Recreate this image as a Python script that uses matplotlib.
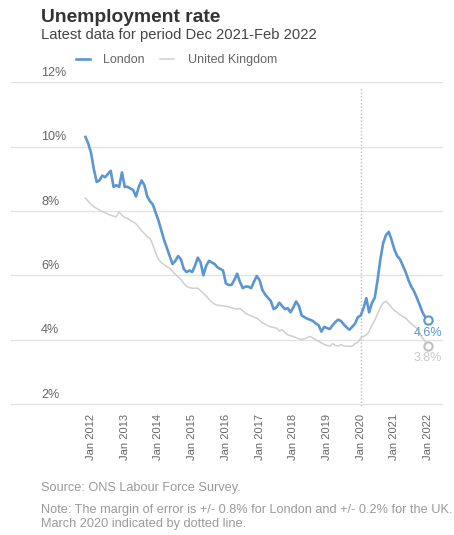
import matplotlib
matplotlib.use("Agg")
import matplotlib.pyplot as plt
from matplotlib.transforms import blended_transform_factory, offset_copy

plt.rcParams['font.family'] = ['Liberation Sans', 'DejaVu Sans']

# Months are counted from Jan 2012 (0 = Jan 2012); each value is the
# rolling three-month rate, plotted at the centre month of the period.
first_month = -2
london = [
    10.3, 10.1, 9.8, 9.3, 8.9, 8.95, 9.1, 9.05, 9.15, 9.25,        # -2 .. 7
    8.75, 8.8, 8.75, 9.2, 8.75, 8.75, 8.7, 8.65, 8.45, 8.75,       # 8 .. 17
    8.95, 8.8, 8.45, 8.3, 8.2, 7.95, 7.7, 7.4, 7.1, 6.85,          # 18 .. 27
    6.6, 6.35, 6.45, 6.6, 6.5, 6.2, 6.1, 6.15, 6.1, 6.3,           # 28 .. 37
    6.55, 6.4, 6.0, 6.3, 6.45, 6.4, 6.35, 6.25, 6.2, 6.15,         # 38 .. 47
    5.75, 5.7, 5.7, 5.85, 6.05, 5.8, 5.6, 5.65, 5.65, 5.6,         # 48 .. 57
    5.8, 5.98, 5.85, 5.55, 5.4, 5.3, 5.2, 4.95, 5.0, 5.15,         # 58 .. 67
    5.05, 4.95, 4.98, 4.85, 5.0, 5.19, 5.05, 4.75, 4.7, 4.65,      # 68 .. 77
    4.62, 4.58, 4.5, 4.45, 4.25, 4.4, 4.36, 4.33, 4.45, 4.55,      # 78 .. 87
    4.62, 4.58, 4.47, 4.38, 4.31, 4.4, 4.5, 4.7, 4.75, 4.98,       # 88 .. 97
    5.29, 4.85, 5.14, 5.3, 5.85, 6.5, 7.0, 7.25, 7.35, 7.1,        # 98 .. 107
    6.8, 6.6, 6.5, 6.3, 6.1, 5.85, 5.65, 5.5, 5.3, 5.08,           # 108 .. 117
    4.85, 4.7, 4.6,                                                # 118 .. 120
]
uk = [
    8.4, 8.3, 8.2, 8.13, 8.08, 8.03, 7.98, 7.95, 7.9, 7.87,        # -2 .. 7
    7.84, 7.82, 7.97, 7.87, 7.8, 7.77, 7.7, 7.66, 7.6, 7.5,        # 8 .. 17
    7.38, 7.3, 7.2, 7.15, 6.95, 6.7, 6.5, 6.4, 6.33, 6.27,         # 18 .. 27
    6.22, 6.12, 6.03, 5.95, 5.87, 5.75, 5.66, 5.62, 5.6, 5.6,      # 28 .. 37
    5.6, 5.52, 5.44, 5.35, 5.26, 5.17, 5.1, 5.07, 5.06, 5.05,      # 38 .. 47
    5.04, 5.02, 4.99, 4.97, 4.95, 4.97, 4.9, 4.82, 4.77, 4.74,     # 48 .. 57
    4.7, 4.67, 4.6, 4.52, 4.48, 4.43, 4.4, 4.38, 4.36, 4.27,       # 58 .. 67
    4.31, 4.22, 4.15, 4.12, 4.1, 4.06, 4.03, 4.0, 4.03, 4.07,      # 68 .. 77
    4.1, 4.05, 4.0, 3.95, 3.9, 3.85, 3.82, 3.8, 3.88, 3.82,        # 78 .. 87
    3.8, 3.85, 3.8, 3.8, 3.79, 3.8, 3.88, 3.92, 4.05, 4.1,         # 88 .. 97
    4.15, 4.26, 4.45, 4.6, 4.8, 5.0, 5.14, 5.2, 5.1, 5.0,          # 98 .. 107
    4.9, 4.85, 4.77, 4.72, 4.67, 4.58, 4.5, 4.42, 4.35, 4.2,       # 108 .. 117
    4.05, 3.95, 3.8,                                               # 118 .. 120
]
months = list(range(first_month, first_month + len(london)))

tick_months = list(range(0, 121, 12))
tick_labels = [f"Jan {2012 + m // 12}" for m in tick_months]
y_ticks = [2, 4, 6, 8, 10, 12]
y_labels = [f"{v}%" for v in y_ticks]
march_2020 = 96  # reference period marked by the dotted line

london_color = "#5b96d2"
uk_color = "#cfcfcf"
grid_color = "#e3e3e3"
label_color = "#666666"

W, H = 454, 535
fig = plt.figure(figsize=(W / 100, H / 100), dpi=100)

# plot area in pixel terms (a little slack below 2% so its gridline shows)
left_px, right_px, top_px, bottom_px = 11, 443, 82.3, 406
y_lo = 2 - (bottom_px - 404) / ((404 - top_px) / 10)
ax = fig.add_axes([left_px / W, 1 - bottom_px / H,
                   (right_px - left_px) / W, (bottom_px - top_px) / H])
ax.set_xlim(-28.5, 125.3)
ax.set_ylim(y_lo, 12)
for s in ax.spines.values():
    s.set_visible(False)
ax.set_yticks([])
for v in y_ticks:
    ax.axhline(v, color=grid_color, lw=1.0, zorder=0)

# y labels sit just above their gridlines
trans = blended_transform_factory(fig.transFigure, ax.transData)
for v, lab in zip(y_ticks, y_labels):
    ax.text(41 / W, v, lab, transform=offset_copy(trans, fig=fig, x=0, y=2.5, units='points'),
            ha='left', va='bottom', fontsize=9, color=label_color)

ax.set_xticks(tick_months)
ax.set_xticklabels(tick_labels, rotation=90, fontsize=8, color=label_color)
ax.tick_params(axis='x', length=0, pad=6)

ax.axvline(march_2020, ymin=0, ymax=(12 - 0.15 - y_lo) / (12 - y_lo), color="#bdbdbd",
           lw=1.0, ls=(0, (1, 1.5)), zorder=1)

ln_uk, = ax.plot(months, uk, color=uk_color, lw=1.1, zorder=2, label="United Kingdom")
ln_ldn, = ax.plot(months, london, color=london_color, lw=1.9, zorder=3, label="London")

# end-point markers and value labels
ax.plot(months[-1], london[-1], 'o', ms=6, mfc='white', mec=london_color, mew=1.5, zorder=4)
ax.plot(months[-1], uk[-1], 'o', ms=6, mfc='white', mec="#c0c0c0", mew=1.5, zorder=4)
ax.annotate(f"{london[-1]:.1f}%", (months[-1], london[-1]), xytext=(0, -4.5),
            textcoords='offset points', ha='center', va='top', fontsize=9,
            color=london_color)
ax.annotate(f"{uk[-1]:.1f}%", (months[-1], uk[-1]), xytext=(0, -4.5),
            textcoords='offset points', ha='center', va='top', fontsize=9,
            color="#c8c8c8")

fig.legend(handles=[ln_ldn, ln_uk], loc='center left',
           bbox_to_anchor=(76 / W, 1 - 60 / H), ncol=2, frameon=False,
           fontsize=9, handlelength=1.1, handletextpad=1.1,
           columnspacing=1.2, borderpad=0, borderaxespad=0,
           labelcolor=label_color)

fig.text(41 / W, 1 - 17 / H, "Unemployment rate", fontsize=13.9,
         fontweight='bold', color="#333333", va='center', ha='left')
fig.text(41 / W, 1 - 35.5 / H, "Latest data for period Dec 2021-Feb 2022",
         fontsize=10.6, color="#444444", va='center', ha='left')

fig.text(41 / W, 1 - 487.5 / H, "Source: ONS Labour Force Survey.",
         fontsize=9.2, color="#9a9a9a", va='center', ha='left')
fig.text(41 / W, 1 - 510.5 / H,
         "Note: The margin of error is +/- 0.8% for London and +/- 0.2% for the UK.",
         fontsize=9.2, color="#9a9a9a", va='center', ha='left')
fig.text(41 / W, 1 - 524 / H, "March 2020 indicated by dotted line.",
         fontsize=9.2, color="#9a9a9a", va='center', ha='left')

fig.savefig("out.png", dpi=100)
